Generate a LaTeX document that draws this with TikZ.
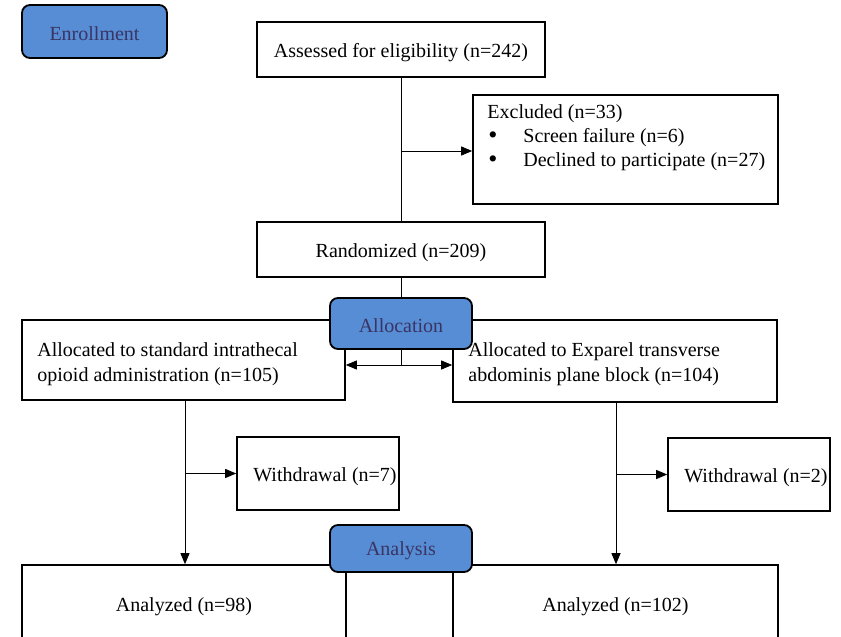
\documentclass[tikz,border=0pt]{standalone}
\usepackage{fontspec}
\setmainfont{Liberation Serif}
\usetikzlibrary{arrows.meta}
\definecolor{phasefill}{RGB}{86,141,212}
\definecolor{phasetext}{RGB}{58,52,100}
\newcommand{\bigbullet}{\makebox[36pt][l]{\hspace*{1pt}\raisebox{-1.5pt}{\fontsize{26}{24}\selectfont\textbullet}}}
\tikzset{
  box/.style={draw=black, line width=1.6pt, fill=white, inner sep=0pt},
  phase/.style={draw=black, line width=1.8pt, fill=phasefill, rounded corners=8pt, inner sep=0pt,
    minimum width=142pt},
  phasetxt/.style={inner sep=0pt, text=phasetext, font=\fontsize{20}{24}\selectfont, yshift=-2.5pt},
  txt/.style={inner sep=0pt, font=\fontsize{20}{25}\selectfont, align=left, yshift=-3pt},
  conn/.style={draw=black, line width=0.9pt},
  arr/.style={conn, -{Triangle[length=11pt,width=9pt]}},
  darr/.style={conn, {Triangle[length=11pt,width=9pt]}-{Triangle[length=11pt,width=9pt]}}
}
\begin{document}
\begin{tikzpicture}[x=1pt,y=-1pt]
\path[use as bounding box, clip] (0,0) rectangle (841,637);
\fill[white] (0,0) rectangle (841,637);

% boxes
\node[box, minimum width=288pt, minimum height=55pt] (assess) at (401,49.5) {};
\node[txt] (assesstext) at (assess.center) {Assessed for eligibility (n=242)};

\node[box, minimum width=305pt, minimum height=109pt] (excl) at (625.5,149.5) {};
\node[txt, anchor=north west, font=\fontsize{20}{24}\selectfont] (excltext) at ([xshift=15pt,yshift=-7pt]excl.north west)
  {Excluded (n=33)\\
   \bigbullet Screen failure (n=6)\\
   \bigbullet Declined to participate (n=27)};

\node[box, minimum width=288pt, minimum height=55pt] (rand) at (401,249.5) {};
\node[txt] (randtext) at (rand.center) {Randomized (n=209)};

\node[box, minimum width=323pt, minimum height=80pt] (left) at (183.5,360) {};
\node[txt, anchor=west, yshift=-1pt] (lefttext) at ([xshift=16pt]left.west)
  {Allocated to standard intrathecal\\opioid administration (n=105)};
\node[box, minimum width=324pt, minimum height=82pt] (right) at (615,361) {};
\node[txt, anchor=west] (righttext) at ([xshift=16pt]right.west)
  {Allocated to Exparel transverse\\abdominis plane block (n=104)};

\node[box, minimum width=162pt, minimum height=73pt] (wd1) at (318,473.5) {};
\node[txt, anchor=west] (wd1text) at ([xshift=17pt]wd1.west) {Withdrawal (n=7)};
\node[box, minimum width=162pt, minimum height=73pt] (wd2) at (749,474.5) {};
\node[txt, anchor=west] (wd2text) at ([xshift=17pt]wd2.west) {Withdrawal (n=2)};

\node[box, minimum width=324pt, minimum height=78pt] (an1) at (184,604) {};
\node[txt] (an1text) at (an1.center) {Analyzed (n=98)};
\node[box, minimum width=325pt, minimum height=78pt] (an2) at (615.5,604) {};
\node[txt] (an2text) at (an2.center) {Analyzed (n=102)};

% connectors
\coordinate (split) at (401,365);
\draw[conn] (assess.south) -- (rand.north);
\draw[arr] (assess.south |- 0,151) -- (excl.west |- 0,151);
\draw[conn] (rand.south) -- (split);
\draw[darr] (left.east |- split) -- (right.west |- split);

\draw[arr] ([xshift=1.5pt]left.south) -- ([xshift=1.5pt]left.south |- an1.north);
\draw[arr] ([xshift=1.5pt]left.south |- wd1.west) -- (wd1.west);
\draw[arr] ([xshift=1pt]right.south) -- ([xshift=1pt]right.south |- an2.north);
\draw[arr] ([xshift=1pt]right.south |- wd2.west) -- (wd2.west);

% phase labels
\node[phase, minimum height=53pt, minimum width=145pt] (enroll) at (94.5,31.5) {};
\node[phasetxt] (enrolltext) at (enroll.center) {Enrollment};
\node[phase, minimum height=51pt] (alloc) at (401,323.5) {};
\node[phasetxt] (alloctext) at (alloc.center) {Allocation};
\node[phase, minimum height=47pt] (analysis) at (401,548.5) {};
\node[phasetxt] (analysistext) at (analysis.center) {Analysis};
\end{tikzpicture}
\end{document}
